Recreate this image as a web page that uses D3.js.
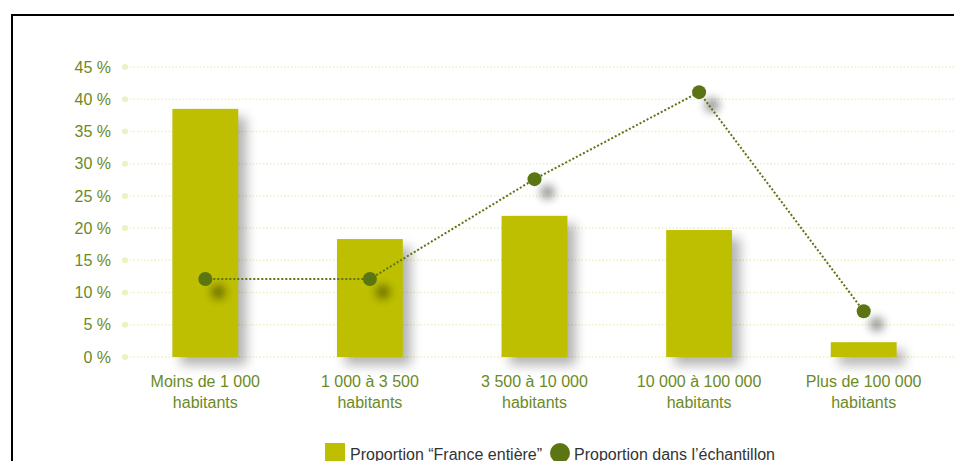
<!doctype html>
<html lang="fr">
<head>
  <meta charset="utf-8">
  <title>Proportion par taille de commune</title>
  <style>
    body { margin: 0; background: #fff; }
    svg text { font-family: "Liberation Sans Narrow", "Arial Narrow", "Liberation Sans", sans-serif; }
  </style>
</head>
<body>
  <div id="chart"></div>
  <script src="https://cdn.jsdelivr.net/npm/d3@7"></script>
  <script>
    // values
    const categories = [
      ['Moins de 1 000', 'habitants'],
      ['1 000 à 3 500', 'habitants'],
      ['3 500 à 10 000', 'habitants'],
      ['10 000 à 100 000', 'habitants'],
      ['Plus de 100 000', 'habitants']
    ];
    const franceValues = [38.5, 18.3, 21.9, 19.7, 2.3];
    const sampleValues = [12.1, 12.1, 27.6, 41.1, 7.1];
    const yTicks = [0, 5, 10, 15, 20, 25, 30, 35, 40, 45];
    const legendLabels = ['Proportion \u201cFrance enti\u00e8re\u201d', 'Proportion dans l\u2019\u00e9chantillon'];

    const w = 954, h = 461;
    const barColor = '#bdbf00';
    const dotColor = '#5a7512';
    const textColor = '#6b8a1f';
    const gridColor = '#eef0c4';

    const svg = d3.select('#chart')
      .append('svg')
        .attr('width', w)
        .attr('height', h);

    // soft drop shadows, filter region = whole canvas so nothing gets clipped
    const defs = svg.append('defs');
    function makeShadow(id, blur, dx, dy, alpha) {
      const f = defs.append('filter')
        .attr('id', id)
        .attr('filterUnits', 'userSpaceOnUse')
        .attr('x', 0).attr('y', 0)
        .attr('width', w).attr('height', h);
      f.append('feGaussianBlur').attr('in', 'SourceAlpha').attr('stdDeviation', blur);
      f.append('feOffset').attr('dx', dx).attr('dy', dy);
      f.append('feComponentTransfer').append('feFuncA').attr('type', 'linear').attr('slope', alpha);
    }
    makeShadow('barShadow', 6, 8, 8, 0.3);
    makeShadow('dotShadow', 5, 0, 0, 0.45);

    // frame
    svg.append('rect')
      .attr('x', 12).attr('y', 15)
      .attr('width', w + 20).attr('height', h + 20)
      .attr('fill', 'none')
      .attr('stroke', '#000')
      .attr('stroke-width', 2);

    const x = d3.scaleBand()
      .domain(d3.range(categories.length))
      .range([123, 946])
      .paddingInner(0.6)
      .paddingOuter(0.3);

    const y = d3.scaleLinear()
      .domain([0, 45])
      .range([357, 67]);

    // grid
    const grid = svg.append('g');
    grid.selectAll('line')
      .data(yTicks)
      .enter()
      .append('line')
        .attr('x1', 130)
        .attr('x2', w)
        .attr('y1', d => y(d))
        .attr('y2', d => y(d))
        .attr('stroke', gridColor)
        .attr('stroke-width', 1.5)
        .attr('stroke-dasharray', '1.5,2');
    grid.selectAll('circle')
      .data(yTicks)
      .enter()
      .append('circle')
        .attr('cx', 125)
        .attr('cy', d => y(d))
        .attr('r', 3)
        .attr('fill', gridColor);

    const yAxis = d3.axisLeft(y)
      .tickValues(yTicks)
      .tickSize(0)
      .tickPadding(0)
      .tickFormat(d => d + ' %');
    const yg = svg.append('g')
      .attr('transform', 'translate(111,0)')
      .call(yAxis);
    yg.select('.domain').remove();
    yg.selectAll('text')
      .attr('fill', textColor)
      .style('font-size', '16px');

    // bar shadows then bars
    svg.append('g')
      .selectAll('rect')
      .data(franceValues)
      .enter()
      .append('rect')
        .attr('x', (d, i) => x(i))
        .attr('y', d => y(d))
        .attr('width', x.bandwidth())
        .attr('height', d => y(0) - y(d))
        .attr('fill', '#000')
        .attr('filter', 'url(#barShadow)');

    svg.append('g')
      .selectAll('rect')
      .data(franceValues)
      .enter()
      .append('rect')
        .attr('x', (d, i) => x(i))
        .attr('y', d => y(d))
        .attr('width', x.bandwidth())
        .attr('height', d => y(0) - y(d))
        .attr('fill', barColor);

    // sample line
    const cx = i => x(i) + x.bandwidth() / 2;
    const line = d3.line()
      .x((d, i) => cx(i))
      .y(d => y(d));

    svg.append('g')
      .selectAll('circle')
      .data(sampleValues)
      .enter()
      .append('circle')
        .attr('cx', (d, i) => cx(i) + 13)
        .attr('cy', d => y(d) + 13)
        .attr('r', 7)
        .attr('fill', '#000')
        .attr('filter', 'url(#dotShadow)');

    svg.append('path')
      .datum(sampleValues)
      .attr('d', line)
      .attr('fill', 'none')
      .attr('stroke', dotColor)
      .attr('stroke-width', 2)
      .attr('stroke-dasharray', '2,2');

    svg.append('g')
      .selectAll('circle')
      .data(sampleValues)
      .enter()
      .append('circle')
        .attr('cx', (d, i) => cx(i))
        .attr('cy', d => y(d))
        .attr('r', 7)
        .attr('fill', dotColor);

    // category labels
    const xl = svg.append('g')
      .selectAll('text')
      .data(categories)
      .enter()
      .append('text')
        .attr('x', (d, i) => cx(i))
        .attr('y', 387)
        .attr('text-anchor', 'middle')
        .attr('fill', textColor)
        .style('font-size', '16px');
    xl.append('tspan')
      .attr('x', (d, i) => cx(i))
      .text(d => d[0]);
    xl.append('tspan')
      .attr('x', (d, i) => cx(i))
      .attr('dy', 21)
      .text(d => d[1]);

    // legend (cut by the bottom edge, as in the original)
    const lg = svg.append('g');
    lg.append('rect')
      .attr('x', 325).attr('y', 443)
      .attr('width', 20).attr('height', 20)
      .attr('fill', barColor);
    lg.append('text')
      .attr('x', 350).attr('y', 460)
      .attr('fill', '#333')
      .style('font-size', '16px')
      .text(legendLabels[0]);
    lg.append('circle')
      .attr('cx', 560).attr('cy', 453)
      .attr('r', 10)
      .attr('fill', dotColor);
    lg.append('text')
      .attr('x', 574).attr('y', 460)
      .attr('fill', '#333')
      .style('font-size', '16px')
      .text(legendLabels[1]);
  </script>
</body>
</html>
